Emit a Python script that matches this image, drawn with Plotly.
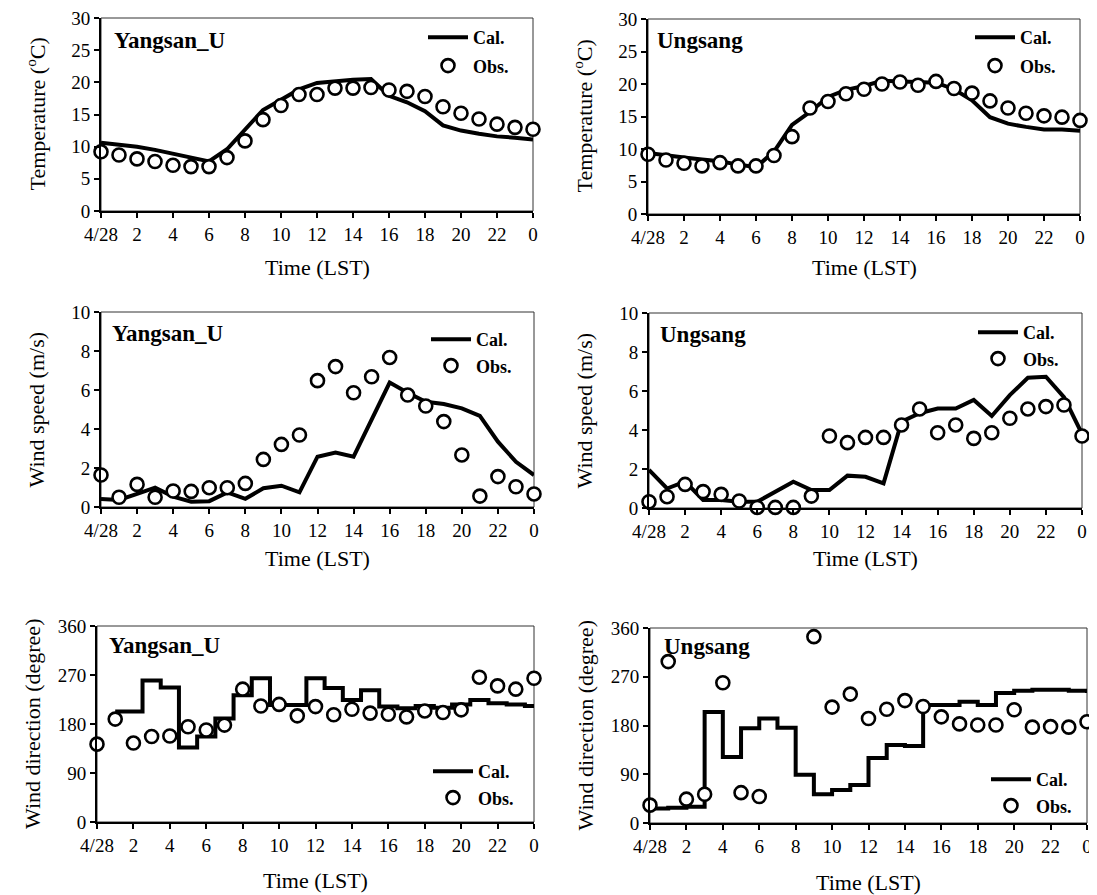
import plotly.graph_objects as go

# ---------------- data ----------------
hours = list(range(25))
tick_vals = list(range(0, 25, 2))
tick_text = ["4/28", "2", "4", "6", "8", "10", "12", "14", "16", "18", "20", "22", "0"]

yang_temp_cal = [10.6, 10.3, 10.0, 9.5, 8.9, 8.3, 7.7, 9.6, 12.7, 15.7, 17.3, 18.9, 19.9,
                 20.2, 20.4, 20.5, 17.9, 16.9, 15.5, 13.3, 12.5, 12.0, 11.6, 11.4, 11.1]
yang_temp_obs = [9.2, 8.7, 8.1, 7.7, 7.1, 6.9, 6.9, 8.3, 10.9, 14.2, 16.4, 18.1, 18.1,
                 19.1, 19.1, 19.2, 18.8, 18.6, 17.8, 16.2, 15.2, 14.3, 13.5, 13.0, 12.7]

ung_temp_cal = [9.4, 9.0, 8.7, 8.4, 8.1, 7.6, 7.2, 9.6, 13.7, 15.7, 18.0, 19.1, 19.7,
                20.5, 20.4, 20.3, 20.2, 19.2, 17.5, 14.9, 13.9, 13.4, 13.0, 13.0, 12.8]
ung_temp_obs = [9.2, 8.3, 7.8, 7.4, 7.9, 7.4, 7.4, 9.0, 11.9, 16.3, 17.3, 18.5, 19.2,
                20.0, 20.3, 19.8, 20.4, 19.3, 18.6, 17.4, 16.3, 15.5, 15.1, 14.9, 14.4]

yang_ws_cal = [0.41, 0.36, 0.67, 0.99, 0.53, 0.27, 0.30, 0.75, 0.42, 0.96, 1.09, 0.75, 2.58,
               2.79, 2.58, 4.46, 6.38, 5.86, 5.40, 5.28, 5.06, 4.67, 3.35, 2.32, 1.64]
yang_ws_obs = [1.64, 0.50, 1.16, 0.50, 0.82, 0.80, 0.99, 0.99, 1.21, 2.44, 3.21, 3.69, 6.48,
               7.20, 5.86, 6.68, 7.67, 5.74, 5.18, 4.38, 2.67, 0.56, 1.56, 1.04, 0.67]

ung_ws_cal = [1.95, 1.00, 1.35, 0.41, 0.41, 0.32, 0.32, 0.84, 1.35, 0.92, 0.92, 1.66, 1.60,
              1.26, 4.43, 4.86, 5.10, 5.10, 5.54, 4.72, 5.79, 6.68, 6.73, 5.68, 3.80]
ung_ws_obs = [0.32, 0.58, 1.21, 0.84, 0.70, 0.36, 0.03, 0.03, 0.03, 0.61, 3.69, 3.35, 3.62,
              3.62, 4.26, 5.08, 3.86, 4.26, 3.57, 3.86, 4.60, 5.08, 5.20, 5.28, 3.69]

yang_wd_cal = [None, 203, 203, 260, 247, 137, 157, 190, 233, 264, 215, 215, 264,
               246, 224, 242, 212, 209, 213, 210, 216, 224, 218, 216, 213]
yang_wd_obs = [143, 189, 145, 157, 158, 175, 169, 178, 244, 213, 216, 195, 212,
               197, 207, 200, 198, 193, 204, 201, 206, 266, 250, 244, 264]

ung_wd_cal = [27, 28, 30, 205, 122, 175, 193, 176, 89, 53, 61, 70, 120,
              144, 142, 218, 218, 224, 218, 240, 244, 246, 246, 244, 240]
ung_wd_obs = [33, 298, 44, 53, 259, 56, 49, None, None, 344, 214, 238, 193,
              210, 226, 215, 196, 183, 181, 181, 209, 177, 178, 177, 187]

station_names = ["Yangsan_U", "Ungsang"]

# ---------------- layout geometry (page pixels) ----------------
OFF = 8                      # default page body margin
W, H = 1097 - OFF, 895 - OFF
FONT = "Liberation Serif"


def px(xp):
    return (xp - OFF) / W


def py(yp):
    return 1 - (yp - OFF) / H


# (left, right, top, bottom) in page pixels for each panel
boxes = [
    (101, 533, 18, 211), (648, 1080, 19, 214),
    (101, 534, 312, 507), (649, 1082, 313, 508),
    (97, 534, 626, 822), (650, 1087, 628, 823),
]
# legend anchor (left, top) in page pixels
leg_pos = [(423, 19), (970, 19), (426, 321), (973, 314), (428, 753), (986, 761)]
leg_gap = [2, 2, 0, 0, 0, 0]
title_pos = [(112, 26), (655, 26), (110, 319), (658, 320), (107, 631), (662, 632)]
xtitle_y = [268, 268, 558, 558, 880, 882]

panels = [
    (yang_temp_cal, yang_temp_obs, "linear", [0, 30], 5, "Temperature (<sup>o</sup>C)", 0),
    (ung_temp_cal, ung_temp_obs, "linear", [0, 30], 5, "Temperature (<sup>o</sup>C)", 1),
    (yang_ws_cal, yang_ws_obs, "linear", [0, 10], 2, "Wind speed (m/s)", 0),
    (ung_ws_cal, ung_ws_obs, "linear", [0, 10], 2, "Wind speed (m/s)", 1),
    (yang_wd_cal, yang_wd_obs, "hvh", [0, 360], 90, "Wind direction (degree)", 0),
    (ung_wd_cal, ung_wd_obs, "hv", [0, 360], 90, "Wind direction (degree)", 1),
]

fig = go.Figure()
layout = dict(
    width=W, height=H, margin=dict(l=0, r=0, t=0, b=0),
    paper_bgcolor="white", plot_bgcolor="white", showlegend=True,
    font=dict(family=FONT, size=19, color="black"),
)
shapes = []
annotations = []

for i, (cal, obs, shape, yr, dt, ytitle, st) in enumerate(panels):
    n = i + 1
    xa = "x" if n == 1 else f"x{n}"
    ya = "y" if n == 1 else f"y{n}"
    lg = "legend" if n == 1 else f"legend{n}"
    l, r, t, b = boxes[i]
    fig.add_trace(go.Scatter(
        x=hours, y=cal, mode="lines", name="<b>Cal.</b>",
        line=dict(color="black", width=4, shape=shape),
        xaxis=xa, yaxis=ya, legend=lg, legendgroup=f"c{n}", cliponaxis=False,
    ))
    fig.add_trace(go.Scatter(
        x=hours, y=obs, mode="markers", name="<b>Obs.</b>",
        marker=dict(symbol="circle", size=13, color="white",
                    line=dict(color="black", width=2.6)),
        xaxis=xa, yaxis=ya, legend=lg, legendgroup=f"o{n}", cliponaxis=False,
    ))
    layout["xaxis" if n == 1 else f"xaxis{n}"] = dict(
        domain=[px(l), px(r)], anchor=ya, range=[0, 24],
        tickmode="array", tickvals=tick_vals, ticktext=tick_text,
        ticks="outside", ticklen=5, tickwidth=1.5, tickcolor="black",
        showline=True, linecolor="black", linewidth=2, showgrid=False, zeroline=False,
        tickfont=dict(family=FONT, size=19), automargin=False,
        ticklabeloverflow="allow",
    )
    layout["yaxis" if n == 1 else f"yaxis{n}"] = dict(
        domain=[py(b), py(t)], anchor=xa, range=yr, dtick=dt, tick0=0,
        ticks="outside", ticklen=5, tickwidth=1.5, tickcolor="black",
        showline=True, linecolor="black", linewidth=2, showgrid=False, zeroline=False,
        tickfont=dict(family=FONT, size=19), automargin=False,
        ticklabeloverflow="allow",
    )
    # thin frame on top / right
    shapes.append(dict(type="rect", xref=f"{xa} domain", yref=f"{ya} domain",
                       x0=0, x1=1, y0=0, y1=1, line=dict(color="#333", width=1), layer="below"))
    lx, ly = leg_pos[i]
    layout[lg] = dict(
        x=px(lx), y=py(ly), xanchor="left", yanchor="top",
        bgcolor="rgba(0,0,0,0)", font=dict(family=FONT, size=18, color="black"),
        itemwidth=40, traceorder="grouped", tracegroupgap=leg_gap[i],
    )
    tx, ty = title_pos[i]
    annotations.append(dict(
        text=f"<b>{station_names[st]}</b>", xref="paper", yref="paper",
        x=px(tx), y=py(ty), xanchor="left", yanchor="top", showarrow=False,
        font=dict(family=FONT, size=23, color="black"),
    ))
    # axis titles
    annotations.append(dict(
        text="Time (LST)", xref="paper", yref="paper",
        x=px((l + r) / 2), y=py(xtitle_y[i]), xanchor="center", yanchor="middle",
        showarrow=False, font=dict(family=FONT, size=22, color="black"),
    ))
    annotations.append(dict(
        text=ytitle, xref="paper", yref="paper", textangle=-90,
        x=px(l - 65), y=py((t + b) / 2), xanchor="center", yanchor="middle",
        showarrow=False, font=dict(family=FONT, size=22, color="black"),
    ))

layout["shapes"] = shapes
layout["annotations"] = annotations
fig.update_layout(**layout)
fig.write_html("out.html")
